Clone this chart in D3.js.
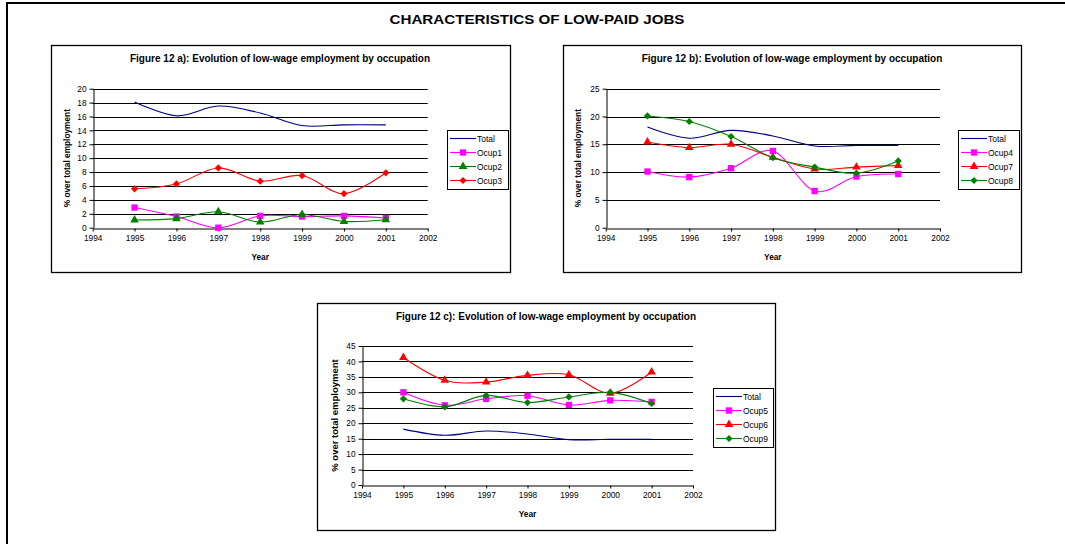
<!DOCTYPE html>
<html>
<head>
<meta charset="utf-8">
<script src="https://cdn.jsdelivr.net/npm/d3@7.9.0/dist/d3.min.js"></script>
<style>
  body { margin: 0; background: #fff; }
  svg { display: block; font-family: 'Liberation Sans', Arial, sans-serif; }
</style>
</head>
<body>
<svg id="page" width="1065" height="544"></svg>
<script>
// data
const years = [1995, 1996, 1997, 1998, 1999, 2000, 2001];
const xTicks = [1994, 1995, 1996, 1997, 1998, 1999, 2000, 2001, 2002];

const total = [18.1, 16.1, 17.5, 16.5, 14.7, 14.8, 14.8];
const ocup1 = [2.9, 1.6, 0.0, 1.7, 1.6, 1.7, 1.4];
const ocup2 = [1.1, 1.3, 2.3, 0.8, 1.9, 0.9, 1.15];
const ocup3 = [5.6, 6.3, 8.6, 6.7, 7.5, 4.9, 7.9];
const ocup4 = [10.1, 9.1, 10.7, 13.8, 6.6, 9.2, 9.65];
const ocup7 = [15.4, 14.4, 15.0, 12.65, 10.55, 10.9, 11.2];
const ocup8 = [20.1, 19.1, 16.4, 12.6, 10.9, 9.8, 12.0];
const ocup5 = [30.0, 25.8, 27.9, 28.9, 25.9, 27.4, 26.9];
const ocup6 = [41.3, 33.9, 33.3, 35.5, 35.7, 29.7, 36.6];
const ocup9 = [27.9, 25.3, 29.0, 26.7, 28.5, 30.0, 26.4];

const yTicksA = d3.range(0, 21, 2);
const yTicksB = d3.range(0, 26, 5);
const yTicksC = d3.range(0, 46, 5);

const pageTitle = 'CHARACTERISTICS OF LOW-PAID JOBS';
const titles = [
  'Figure 12 a): Evolution of low-wage employment by occupation',
  'Figure 12 b): Evolution of low-wage employment by occupation',
  'Figure 12 c): Evolution of low-wage employment by occupation'
];

const NAVY = '#000080', MAGENTA = '#FF00FF', GREEN = '#008000', RED = '#FF0000';

const svg = d3.select('#page');

// page frame and heading
svg.append('path')
  .attr('d', 'M7,544V3H1065')
  .attr('fill', 'none').attr('stroke', '#000').attr('stroke-width', 2);
svg.append('text')
  .attr('x', 537).attr('y', 24)
  .attr('text-anchor', 'middle')
  .attr('font-size', 12.5).attr('font-weight', 'bold')
  .attr('textLength', 295).attr('lengthAdjust', 'spacingAndGlyphs')
  .text(pageTitle);

function drawChart(cfg) {
  const g = svg.append('g');

  g.append('rect')
    .attr('x', cfg.frame[0] + 0.5).attr('y', cfg.frame[1] + 0.5)
    .attr('width', cfg.frame[2] - cfg.frame[0]).attr('height', cfg.frame[3] - cfg.frame[1])
    .attr('fill', '#fff').attr('stroke', '#000').attr('stroke-width', 1.3);

  g.append('text')
    .attr('x', cfg.titleX).attr('y', cfg.frame[1] + 16.5)
    .attr('text-anchor', 'middle')
    .attr('font-size', 10).attr('font-weight', 'bold')
    .text(cfg.title);

  const x = d3.scaleLinear().domain([1994, 2002]).range([cfg.plot.left, cfg.plot.right]);
  const y = d3.scaleLinear().domain([0, cfg.yMax]).range([cfg.plot.bottom, cfg.plot.top]);

  // gridlines
  g.append('g')
    .selectAll('line')
    .data(cfg.yTicks.filter(d => d > 0))
    .join('line')
    .attr('x1', cfg.plot.left).attr('x2', cfg.plot.right)
    .attr('y1', d => Math.round(y(d)) + 0.5).attr('y2', d => Math.round(y(d)) + 0.5)
    .attr('stroke', '#000').attr('stroke-width', 1);

  const yAxis = g.append('g')
    .attr('transform', `translate(${Math.round(cfg.plot.left) + 0.5},0)`)
    .call(d3.axisLeft(y).tickValues(cfg.yTicks).tickSize(4).tickPadding(3).tickSizeOuter(0));
  const xAxis = g.append('g')
    .attr('transform', `translate(0,${Math.round(cfg.plot.bottom) + 0.5})`)
    .call(d3.axisBottom(x).tickValues(xTicks).tickFormat(d3.format('d')).tickSize(3).tickPadding(4).tickSizeOuter(0));
  [xAxis, yAxis].forEach(a => {
    a.attr('font-family', null).attr('font-size', 8.3);
    a.selectAll('text').attr('fill', '#000');
    a.selectAll('line, path').attr('stroke', '#000');
  });
  xAxis.select('.domain').attr('stroke', '#555').attr('stroke-width', 1.6);

  g.append('text')
    .attr('x', (cfg.plot.left + cfg.plot.right) / 2).attr('y', cfg.plot.bottom + 32)
    .attr('text-anchor', 'middle')
    .attr('font-size', 8.3).attr('font-weight', 'bold')
    .text('Year');

  g.append('text')
    .attr('transform', `translate(${cfg.yTitleX},${(cfg.plot.top + cfg.plot.bottom) / 2}) rotate(-90)`)
    .attr('text-anchor', 'middle')
    .attr('font-size', cfg.yTitleSize).attr('font-weight', 'bold')
    .text('% over total employment');

  const line = d3.line()
    .x((d, i) => x(years[i]))
    .y(d => y(d))
    .curve(d3.curveCardinal.tension(0));

  const marker = (sel, s) => sel
    .attr('d', d3.symbol().type(s.symbol).size(s.size))
    .attr('fill', s.color);

  cfg.series.forEach(s => {
    g.append('path')
      .datum(s.values)
      .attr('d', line)
      .attr('fill', 'none')
      .attr('stroke', s.color)
      .attr('stroke-width', 1.1);
    if (s.symbol) {
      g.append('g')
        .selectAll('path')
        .data(s.values)
        .join('path')
        .attr('transform', (d, i) => `translate(${x(years[i])},${y(d)}) rotate(${s.rot || 0})`)
        .call(marker, s);
    }
  });

  // legend
  const L = cfg.legend;
  const lg = g.append('g');
  lg.append('rect')
    .attr('x', L.x + 0.5).attr('y', L.y + 0.5)
    .attr('width', L.w).attr('height', cfg.series.length * 14 + 3)
    .attr('fill', '#fff').attr('stroke', '#000').attr('stroke-width', 1);
  cfg.series.forEach((s, i) => {
    const cy = L.y + 8.5 + i * 14;
    lg.append('line')
      .attr('x1', L.x + 3).attr('x2', L.x + 29)
      .attr('y1', cy).attr('y2', cy)
      .attr('stroke', s.color).attr('stroke-width', 1.1);
    if (s.symbol) {
      lg.append('path')
        .attr('transform', `translate(${L.x + 16},${cy}) rotate(${s.rot || 0})`)
        .call(marker, s);
    }
    lg.append('text')
      .attr('x', L.x + 30).attr('y', cy + 3)
      .attr('font-size', 8.5)
      .text(s.name);
  });
}

const SQ = { symbol: d3.symbolSquare, size: 40 };
const TRI = { symbol: d3.symbolTriangle, size: 32 };
const DIA = { symbol: d3.symbolSquare, size: 26, rot: 45 };

drawChart({
  frame: [51, 45, 510, 272],
  titleX: 280,
  title: titles[0],
  plot: { left: 92.7, right: 427.7, top: 88.7, bottom: 227.7 },
  yMax: 20, yTicks: yTicksA,
  yTitleX: 70, yTitleSize: 8.3,
  legend: { x: 447, y: 130, w: 61 },
  series: [
    { name: 'Total', values: total, color: NAVY },
    { name: 'Ocup1', values: ocup1, color: MAGENTA, ...SQ },
    { name: 'Ocup2', values: ocup2, color: GREEN, ...TRI },
    { name: 'Ocup3', values: ocup3, color: RED, ...DIA }
  ]
});

drawChart({
  frame: [563, 45, 1021, 272],
  titleX: 792,
  title: titles[1],
  plot: { left: 605.7, right: 940, top: 88.7, bottom: 227.7 },
  yMax: 25, yTicks: yTicksB,
  yTitleX: 581, yTitleSize: 8.3,
  legend: { x: 958, y: 130, w: 61 },
  series: [
    { name: 'Total', values: total, color: NAVY },
    { name: 'Ocup4', values: ocup4, color: MAGENTA, ...SQ },
    { name: 'Ocup7', values: ocup7, color: RED, ...TRI },
    { name: 'Ocup8', values: ocup8, color: GREEN, ...DIA }
  ]
});

drawChart({
  frame: [317, 303, 775, 530],
  titleX: 546,
  title: titles[2],
  plot: { left: 362, right: 693, top: 346, bottom: 485 },
  yMax: 45, yTicks: yTicksC,
  yTitleX: 338, yTitleSize: 9.5,
  legend: { x: 713, y: 388, w: 60 },
  series: [
    { name: 'Total', values: total, color: NAVY },
    { name: 'Ocup5', values: ocup5, color: MAGENTA, ...SQ },
    { name: 'Ocup6', values: ocup6, color: RED, ...TRI },
    { name: 'Ocup9', values: ocup9, color: GREEN, ...DIA }
  ]
});
</script>
</body>
</html>
